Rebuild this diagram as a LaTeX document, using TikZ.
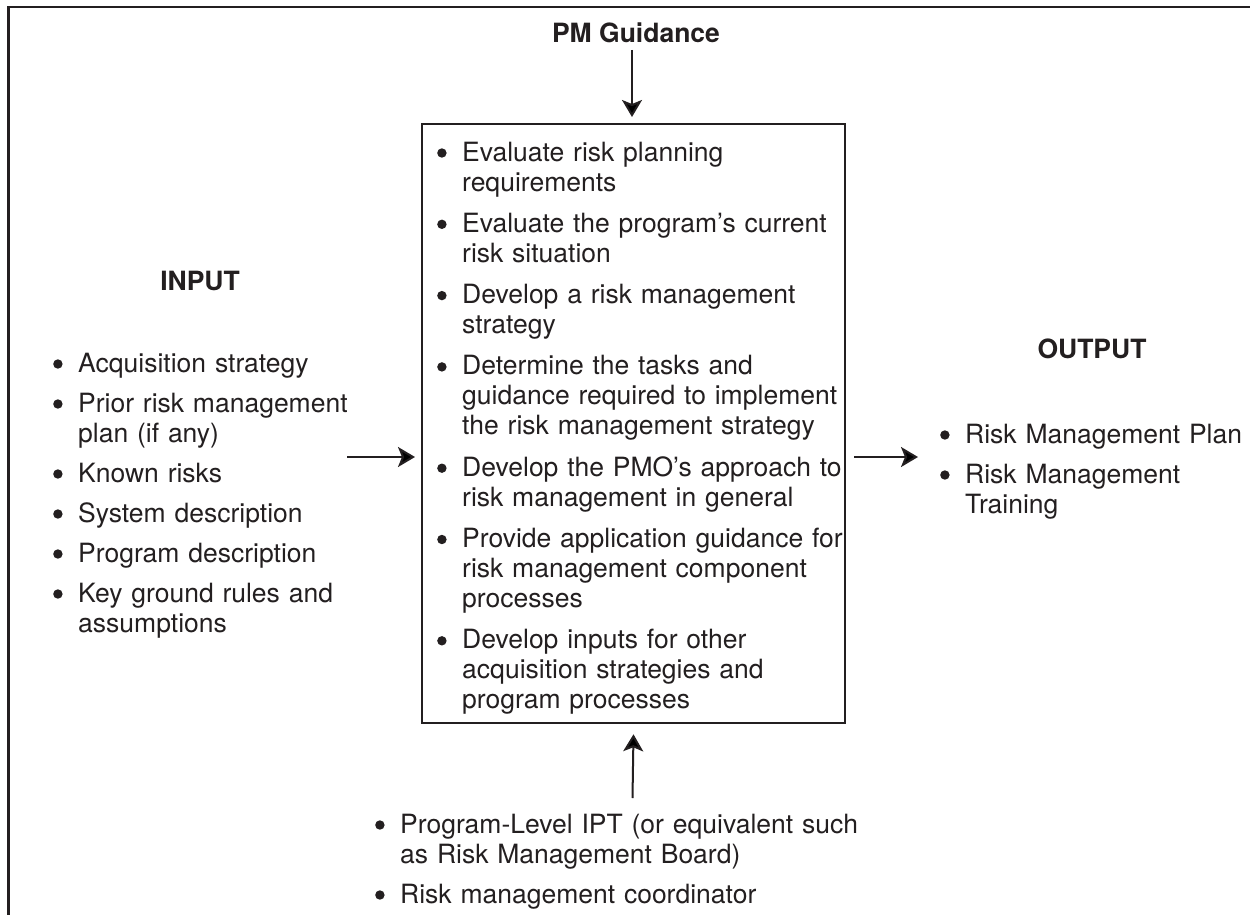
\documentclass[tikz,border=0pt]{standalone}
\usepackage{fontspec}
\setmainfont{TeX Gyre Heros}
\usetikzlibrary{arrows.meta}
\definecolor{ink}{HTML}{231F20}
\newcommand{\bul}{\makebox[26pt][l]{\hspace{1pt}\raisebox{3.3pt}{\tikz\fill[ink] (0,0) circle (4.7pt);}}}
\newcommand{\nl}{\newline\hspace*{26pt}}
\begin{document}
\begin{tikzpicture}[x=1pt,y=-1pt,
  every node/.style={text=ink, font=\fontsize{26.5}{30}\selectfont},
  head/.style={anchor=base, inner sep=0pt, font=\fontsize{26.5}{30}\selectfont\bfseries},
  bitem/.style={anchor=base west, inner sep=0pt, text width=#1},
  bitem/.default=480pt,
  arr/.style={draw=ink, line width=2pt, -{Stealth[length=17pt,width=20pt,inset=4pt]}},
  procbox/.style={draw=ink, line width=2.3pt, minimum width=423pt, minimum height=599pt, inner sep=0pt, anchor=north west},
  ]
\useasboundingbox (0,0) rectangle (1250,915);
\fill[white] (0,0) rectangle (1250,915);
% outer frame (cut by the page at right and bottom)
\draw[draw=ink, line width=2.2pt] (8.5,915) -- (8.5,7) -- (1250,7);

% central process box
\node[procbox] (proc) at (421,123) {};

% headings
\node[head] (pm) at (636,43) {PM Guidance};
\node[head] (inhead) at (200,290) {INPUT};
\node[head] (outhead) at (1092,358) {OUTPUT};

% input list
\node[bitem] (in1) at (52,372) {\bul Acquisition strategy};
\node[bitem] (in2) at (52,412) {\bul Prior risk management\nl plan (if any)};
\node[bitem] (in3) at (52,482) {\bul Known risks};
\node[bitem] (in4) at (52,522) {\bul System description};
\node[bitem] (in5) at (52,562) {\bul Program description};
\node[bitem] (in6) at (52,602) {\bul Key ground rules and\nl assumptions};

% process list
\node[bitem] (p1) at (436,161) {\bul Evaluate risk planning\nl requirements};
\node[bitem] (p2) at (436,232.3) {\bul Evaluate the program’s current\nl risk situation};
\node[bitem] (p3) at (436,303.6) {\bul Develop a risk management\nl strategy};
\node[bitem] (p4) at (436,374.9) {\bul Determine the tasks and\nl guidance required to implement\nl the risk management strategy};
\node[bitem] (p5) at (436,476.2) {\bul Develop the PMO’s approach to\nl risk management in general};
\node[bitem] (p6) at (436,547.5) {\bul Provide application guidance for\nl risk management component\nl processes};
\node[bitem] (p7) at (436,648.8) {\bul Develop inputs for other\nl acquisition strategies and\nl program processes};

% output list
\node[bitem] (o1) at (939,443) {\bul Risk Management Plan};
\node[bitem] (o2) at (939,483) {\bul Risk Management\nl Training};

% mechanism list
\node[bitem=520pt] (m1) at (374,833) {\bul Program-Level IPT (or equivalent such\nl as Risk Management Board)};
\node[bitem=520pt] (m2) at (374,903) {\bul Risk management coordinator};

% connectors
\coordinate (pmA) at (632,50);
\draw[arr, shorten >=6pt] (pmA) -- (pmA |- proc.north);
\coordinate (inA) at (347,457);
\draw[arr, shorten >=6pt] (inA) -- (inA -| proc.west);
\coordinate (outA) at (918,457);
\draw[arr, shorten <=8pt] (outA -| proc.east) -- (outA);
\coordinate (botA) at (632.5,798);
\draw[arr, shorten >=10pt] (botA) -- (proc.south);
\end{tikzpicture}
\end{document}
